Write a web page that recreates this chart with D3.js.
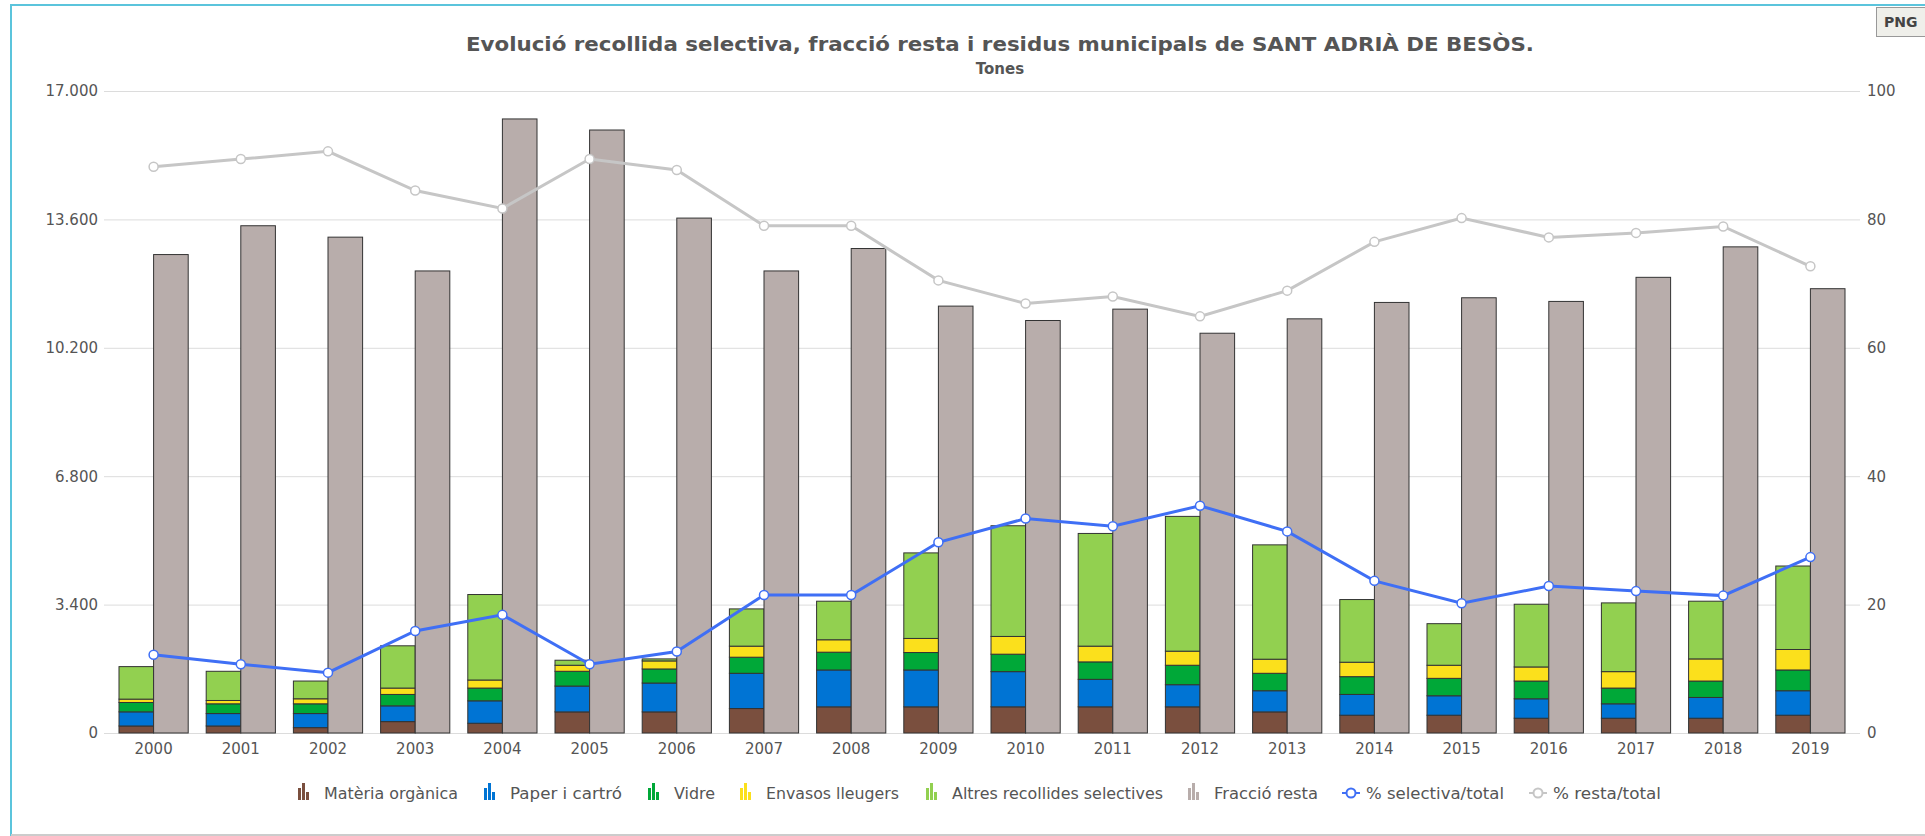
<!DOCTYPE html>
<html lang="ca">
<head>
<meta charset="UTF-8">
<title>Evolució recollida selectiva</title>
<script src="https://d3js.org/d3.v7.min.js"></script>
<style>
    body { margin: 0; background: #fff; }
    text { font-family: "DejaVu Sans", Verdana, sans-serif; }
    .tick text { fill: #555; font-size: 15px; }
    .grid line { stroke: #dcdcdc; }
    .grid path { display: none; }
</style>
</head>
<body>
<script>
    var years = ["2000", "2001", "2002", "2003", "2004", "2005", "2006", "2007", "2008", "2009",
        "2010", "2011", "2012", "2013", "2014", "2015", "2016", "2017", "2018", "2019"];
    var materia = [186, 186, 142, 302, 258, 559, 559, 648, 693, 693, 693, 693, 693, 559, 471, 471, 391, 391, 391, 471];
    var paper = [374, 329, 373, 417, 594, 684, 764, 933, 976, 976, 932, 728, 586, 560, 550, 515, 515, 382, 550, 648];
    var vidre = [248, 258, 258, 302, 338, 391, 373, 426, 471, 462, 462, 462, 515, 462, 471, 461, 470, 417, 435, 550];
    var envasos = [89, 88, 133, 169, 213, 160, 213, 293, 329, 373, 470, 417, 373, 373, 382, 347, 373, 435, 586, 542];
    var altres = [861, 773, 470, 1119, 2264, 133, 53, 986, 1021, 2265, 2931, 2984, 3569, 3028, 1660, 1101, 1661, 1820, 1528, 2211];
    var resta = [12669, 13432, 13130, 12235, 16260, 15967, 13635, 12235, 12829, 11304,
        10923, 11224, 10586, 10967, 11401, 11525, 11428, 12066, 12873, 11765];
    var pctSelectiva = [12.2, 10.7, 9.4, 15.9, 18.4, 10.7, 12.7, 21.5, 21.5, 29.7, 33.4, 32.2, 35.4, 31.4, 23.7, 20.2, 22.9, 22.1, 21.4, 27.4];
    var pctResta = [88.2, 89.4, 90.6, 84.5, 81.7, 89.4, 87.7, 79.0, 79.0, 70.5, 66.9, 68.0, 64.9, 68.9, 76.5, 80.2, 77.2, 77.9, 78.9, 72.7];
    var leftTicks = [0, 3400, 6800, 10200, 13600, 17000];
    var rightTicks = [0, 20, 40, 60, 80, 100];

    var series = [
        { key: "materia", name: "Matèria orgànica", color: "#7a4f3e", values: materia },
        { key: "paper", name: "Paper i cartró", color: "#0074d4", values: paper },
        { key: "vidre", name: "Vidre", color: "#00a838", values: vidre },
        { key: "envasos", name: "Envasos lleugers", color: "#fbe01c", values: envasos },
        { key: "altres", name: "Altres recollides selectives", color: "#92d050", values: altres }
    ];
    var restaColor = "#b8adab";

    var rows = years.map(function(y, i) {
        var r = { year: y, resta: resta[i] };
        series.forEach(function(s) { r[s.key] = s.values[i]; });
        return r;
    });

    var W = 1925, H = 836;
    var svg = d3.select("body").append("svg").attr("width", W).attr("height", H);

    // frame
    svg.append("line").attr("x1", 11).attr("x2", 11).attr("y1", 5).attr("y2", 836)
        .attr("stroke", "#5bc4dc").attr("stroke-width", 2);
    svg.append("line").attr("x1", 10).attr("x2", W).attr("y1", 5).attr("y2", 5)
        .attr("stroke", "#5bc4dc").attr("stroke-width", 2);
    svg.append("line").attr("x1", 11).attr("x2", W).attr("y1", 835).attr("y2", 835)
        .attr("stroke", "#cccccc").attr("stroke-width", 2);

    // PNG button
    svg.append("rect").attr("x", 1876.5).attr("y", 7.5).attr("width", 60).attr("height", 29)
        .attr("fill", "#efefea").attr("stroke", "#999");
    svg.append("text").attr("x", 1884).attr("y", 27).text("PNG")
        .style("font-size", "14px").style("font-weight", "bold").attr("fill", "#444");

    var gridLeft = 104, gridRight = 1860;
    var x = d3.scaleBand().domain(years).range([110, 1854]);
    var xSub = d3.scaleBand().domain(["sel", "resta"]).range([0, x.bandwidth()]).paddingOuter(0.26);
    var y = d3.scaleLinear().domain([0, 17000]).range([733, 91]);
    var y2 = d3.scaleLinear().domain([0, 100]).range([733, 91]);

    var ca = d3.formatLocale({ decimal: ",", thousands: ".", grouping: [3], currency: ["", " €"] });

    // title
    svg.append("text").attr("x", 1000).attr("y", 51).attr("text-anchor", "middle")
        .style("font-size", "19px").style("font-weight", "bold").attr("fill", "#555")
        .attr("textLength", 1068).attr("lengthAdjust", "spacingAndGlyphs")
        .text("Evolució recollida selectiva, fracció resta i residus municipals de SANT ADRIÀ DE BESÒS.");
    svg.append("text").attr("x", 1000).attr("y", 74).attr("text-anchor", "middle")
        .style("font-size", "15px").style("font-weight", "bold").attr("fill", "#555")
        .text("Tones");

    // grid
    svg.append("g").attr("class", "grid")
        .attr("transform", "translate(" + gridLeft + ",0)")
        .call(d3.axisRight(y).tickValues(leftTicks).tickSize(gridRight - gridLeft).tickFormat(""));

    var leftAxis = svg.append("g").attr("transform", "translate(" + gridLeft + ",0)")
        .call(d3.axisLeft(y).tickValues(leftTicks).tickSize(0).tickPadding(6).tickFormat(ca.format(",d")));
    leftAxis.select(".domain").remove();

    var rightAxis = svg.append("g").attr("transform", "translate(" + gridRight + ",0)")
        .call(d3.axisRight(y2).tickValues(rightTicks).tickSize(0).tickPadding(7));
    rightAxis.select(".domain").remove();

    var bottomAxis = svg.append("g").attr("transform", "translate(0,733)")
        .call(d3.axisBottom(x).tickSize(0).tickPadding(10));
    bottomAxis.select(".domain").remove();

    // stacked selective bars
    var stacked = d3.stack().keys(series.map(function(s) { return s.key; }))(rows);
    svg.append("g").selectAll("g").data(stacked).enter().append("g")
        .attr("fill", function(d, i) { return series[i].color; })
        .selectAll("rect").data(function(d) { return d; }).enter().append("rect")
        .attr("x", function(d) { return x(d.data.year) + xSub("sel"); })
        .attr("y", function(d) { return y(d[1]); })
        .attr("width", xSub.bandwidth())
        .attr("height", function(d) { return y(d[0]) - y(d[1]); })
        .attr("stroke", "#333").attr("stroke-width", 1);

    // fraccio resta bars
    svg.append("g").selectAll("rect").data(rows).enter().append("rect")
        .attr("x", function(d) { return x(d.year) + xSub("resta"); })
        .attr("y", function(d) { return y(d.resta); })
        .attr("width", xSub.bandwidth())
        .attr("height", function(d) { return y(0) - y(d.resta); })
        .attr("fill", restaColor).attr("stroke", "#333").attr("stroke-width", 1);

    // percentage lines
    function drawLine(values, color) {
        var pts = years.map(function(yr, i) { return [x(yr) + x.bandwidth() / 2, y2(values[i])]; });
        svg.append("path").datum(pts)
            .attr("d", d3.line())
            .attr("fill", "none").attr("stroke", color).attr("stroke-width", 3);
        svg.append("g").selectAll("circle").data(pts).enter().append("circle")
            .attr("cx", function(d) { return d[0]; })
            .attr("cy", function(d) { return d[1]; })
            .attr("r", 4.5)
            .attr("fill", "#fff").attr("stroke", color).attr("stroke-width", 1.5);
    }
    drawLine(pctResta, "#c6c6c6");
    drawLine(pctSelectiva, "#3f6ff5");

    // legend
    var legendItems = [
        { name: "Matèria orgànica", color: "#7a4f3e", type: "bar", x: 298, w: 134 },
        { name: "Paper i cartró", color: "#0074d4", type: "bar", x: 484, w: 112 },
        { name: "Vidre", color: "#00a838", type: "bar", x: 648, w: 41 },
        { name: "Envasos lleugers", color: "#fbe01c", type: "bar", x: 740, w: 133 },
        { name: "Altres recollides selectives", color: "#92d050", type: "bar", x: 926, w: 211 },
        { name: "Fracció resta", color: restaColor, type: "bar", x: 1188, w: 104 },
        { name: "% selectiva/total", color: "#3f6ff5", type: "line", x: 1342, w: 138 },
        { name: "% resta/total", color: "#c6c6c6", type: "line", x: 1529, w: 108 }
    ];
    var ly = 800;
    var lg = svg.append("g").selectAll("g").data(legendItems).enter().append("g")
        .attr("transform", function(d) { return "translate(" + d.x + "," + ly + ")"; });
    lg.each(function(d) {
        var g = d3.select(this);
        var tx;
        if (d.type === "bar") {
            [12, 17, 8].forEach(function(h, k) {
                g.append("rect").attr("x", k * 4).attr("y", -h).attr("width", 3).attr("height", h)
                    .attr("fill", d.color);
            });
            tx = 26;
        } else {
            g.append("line").attr("x1", 0).attr("x2", 18).attr("y1", -7).attr("y2", -7)
                .attr("stroke", d.color).attr("stroke-width", 2);
            g.append("circle").attr("cx", 9).attr("cy", -7).attr("r", 4.5)
                .attr("fill", "#fff").attr("stroke", d.color).attr("stroke-width", 2);
            tx = 24;
        }
        g.append("text").attr("x", tx).attr("y", -1).text(d.name)
            .attr("textLength", d.w).attr("lengthAdjust", "spacingAndGlyphs")
            .style("font-size", "15px").attr("fill", "#555");
    });
</script>
</body>
</html>
